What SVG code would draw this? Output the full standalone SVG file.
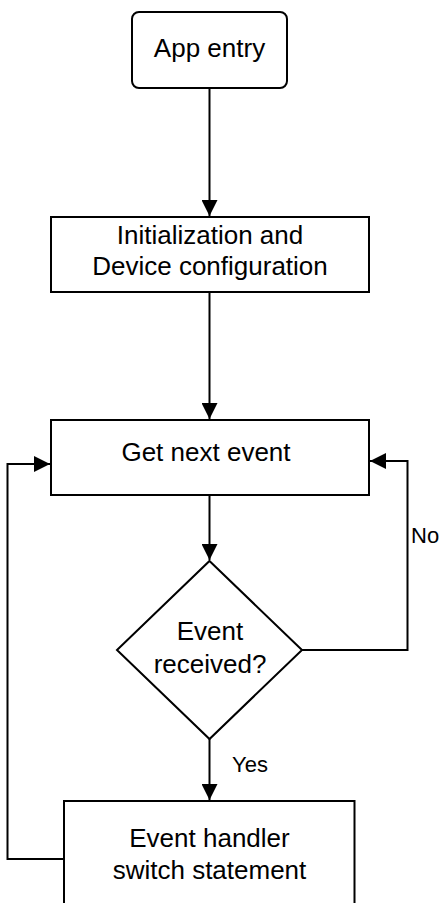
<svg xmlns="http://www.w3.org/2000/svg" width="441" height="903" viewBox="0 0 441 903">
  <defs>
    <style>
      .box { fill: #ffffff; stroke: #000000; stroke-width: 2; }
      .edge { fill: none; stroke: #000000; stroke-width: 2; }
      .label { font-family: "Liberation Sans", Arial, Helvetica, sans-serif; font-size: 26px; fill: #000000; text-anchor: middle; }
      .edge-label { font-family: "Liberation Sans", Arial, Helvetica, sans-serif; font-size: 22px; fill: #000000; }
    </style>
    <marker id="arrow" viewBox="0 0 16 16" refX="16" refY="8" markerWidth="16" markerHeight="16" markerUnits="userSpaceOnUse" orient="auto">
      <path d="M0,0 L16,8 L0,16 Z" fill="#000000"/>
    </marker>
  </defs>

  <rect width="441" height="903" fill="#ffffff"/>

  <!-- connectors -->
  <g id="connectors">
    <path class="edge" d="M209.5,88 L209.5,216" marker-end="url(#arrow)"/>
    <path class="edge" d="M209.5,292 L209.5,419" marker-end="url(#arrow)"/>
    <path class="edge" d="M209.5,495 L209.5,560" marker-end="url(#arrow)"/>
    <path class="edge" d="M209.5,739 L209.5,800" marker-end="url(#arrow)"/>
    <path class="edge" d="M302,650 L407.5,650 L407.5,461 L370,461" marker-end="url(#arrow)"/>
    <path class="edge" d="M64,859 L7.5,859 L7.5,464 L50,464" marker-end="url(#arrow)"/>
    <text class="edge-label" x="411" y="543">No</text>
    <text class="edge-label" x="232" y="772">Yes</text>
  </g>

  <!-- start -->
  <g id="app-entry">
    <rect class="box" x="132" y="12" width="155" height="76" rx="7" ry="7"/>
    <text class="label" x="209.5" y="57">App entry</text>
  </g>

  <!-- setup -->
  <g id="init">
    <rect class="box" x="51" y="217" width="318" height="75"/>
    <text class="label" x="210" y="244">Initialization and</text>
    <text class="label" x="210" y="275">Device configuration</text>
  </g>

  <!-- event loop -->
  <g id="get-next-event">
    <rect class="box" x="51" y="420" width="318" height="75"/>
    <text class="label" x="206" y="461">Get next event</text>
  </g>

  <g id="event-received">
    <polygon class="box" points="209.5,561 302,650 209.5,739 117,650"/>
    <text class="label" x="210" y="640">Event</text>
    <text class="label" x="210" y="673">received?</text>
  </g>

  <g id="event-handler">
    <rect class="box" x="64" y="801" width="290.5" height="120"/>
    <text class="label" x="209.5" y="847">Event handler</text>
    <text class="label" x="209.5" y="879">switch statement</text>
  </g>
</svg>
